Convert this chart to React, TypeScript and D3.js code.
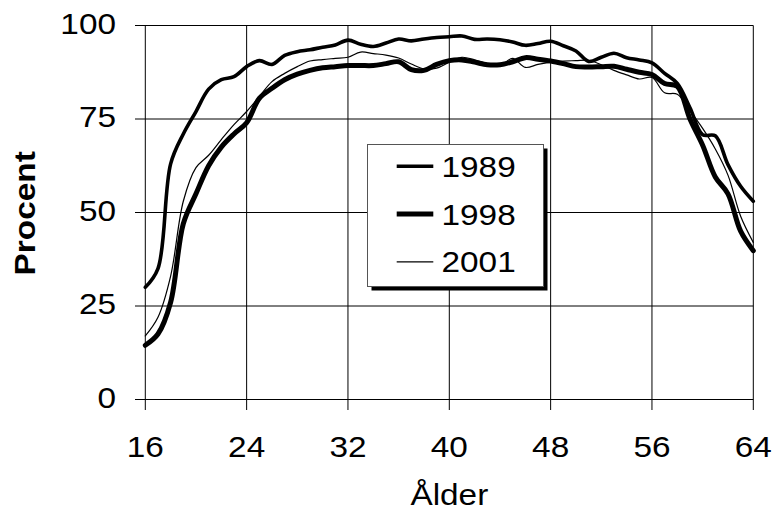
import React from "react";
import * as d3 from "d3";

const ages: number[] = d3.range(16, 65);

const s1989: number[] = [
  30, 35, 63, 71, 77, 83, 85.5, 86.3, 89, 90.6, 89.6, 92, 93, 93.5, 94.2, 94.8, 96.1, 95, 94.4, 95.3,
  96.4, 95.9, 96.4, 96.8, 97, 97.2, 96.3, 96.4, 96.2, 95.6, 94.7, 95.2, 95.8, 94.6, 93.2, 90.4, 91.5,
  92.6, 91.4, 90.8, 90, 87.2, 84.5, 78, 70.8, 70.5, 62.8, 57, 53,
];
const s1998: number[] = [
  14.5, 17.5, 26, 47, 55, 62.5, 67.5, 71, 74, 80.5, 83.2, 85.5, 87, 88, 88.7, 89, 89.3, 89.3, 89.3, 89.8,
  90.3, 88.2, 88, 89.6, 90.6, 90.8, 90.2, 89.5, 89.5, 90.3, 91.4, 91, 90.5, 89.8, 89, 88.9, 89, 89.1,
  88.3, 87.5, 86.9, 84.5, 83.7, 75, 68, 59.5, 55, 45, 39.8,
];
const s2001: number[] = [
  17, 22, 33, 53, 62, 65.3, 69.5, 73.5, 77, 81, 85, 87.2, 89, 90.5, 90.9, 91.2, 91.5, 92.9, 92.5, 92.1,
  91.3, 89.7, 88.4, 88.6, 90.2, 91.5, 90.8, 89.8, 89.3, 91.2, 88.8, 89.6, 90.2, 90.5, 90.6, 90.7, 89.5,
  88, 86.8, 85.7, 86.1, 82, 81.6, 77.2, 72.5, 67, 60, 49, 42,
];

const seriesNames: string[] = ["1989", "1998", "2001"];
const seriesValues: number[][] = [s1989, s1998, s2001];
const seriesWidths: number[] = [3.6, 5, 1.2];

const xTicks: number[] = [16, 24, 32, 40, 48, 56, 64];
const yTicks: number[] = [0, 25, 50, 75, 100];

const xTitle = "Ålder";
const yTitle = "Procent";

const W = 772;
const H = 511;
const FONT = "'Liberation Sans', Arial, Helvetica, sans-serif";
const SX = 1.15;

export default function App() {
  const x = d3.scaleLinear().domain([16, 64]).range([145.3, 753.3]);
  const y = d3.scaleLinear().domain([0, 100]).range([399.5, 25.5]);

  const line = d3
    .line<number>()
    .x((_, i) => x(ages[i]))
    .y((d) => y(d))
    .curve(d3.curveCatmullRom.alpha(0.5));

  const legX = 367.5;
  const legY = 144.5;
  const legW = 176;
  const legH = 142;
  const rowBase = [176.7, 224.5, 272.3];

  return (
    <svg
      width={W}
      height={H}
      style={{ position: "absolute", left: 0, top: 0, background: "#fff" }}
      fontFamily={FONT}
    >
      <rect x={0} y={0} width={W} height={H} fill="#fff" />
      {/* horizontal gridlines + y ticks */}
      {yTicks.map((t) => (
        <line key={"gy" + t} x1={135} x2={x(64)} y1={y(t)} y2={y(t)} stroke="#000" strokeWidth={1} />
      ))}
      {/* vertical gridlines + x ticks */}
      {xTicks.map((t) => (
        <line key={"gx" + t} x1={x(t)} x2={x(t)} y1={y(100)} y2={410} stroke="#000" strokeWidth={1} />
      ))}
      {/* y tick labels */}
      {yTicks.map((t) => (
        <text
          key={"ly" + t}
          transform={`translate(116,${y(t) + 8}) scale(${SX},1)`}
          textAnchor="end"
          fontSize={29}
          fill="#000"
        >
          {t}
        </text>
      ))}
      {/* x tick labels */}
      {xTicks.map((t) => (
        <text
          key={"lx" + t}
          transform={`translate(${x(t)},457) scale(${SX},1)`}
          textAnchor="middle"
          fontSize={29}
          fill="#000"
        >
          {t}
        </text>
      ))}
      {/* axis titles */}
      <text
        transform={`translate(${(x(16) + x(64)) / 2},505) scale(${SX},1)`}
        textAnchor="middle"
        fontSize={29}
        fill="#000"
      >
        {xTitle}
      </text>
      <text
        transform={`translate(35,213.3) rotate(-90) scale(${SX},1)`}
        textAnchor="middle"
        fontSize={29}
        fontWeight="bold"
        fill="#000"
      >
        {yTitle}
      </text>
      {/* series */}
      {seriesValues.map((vals, i) => (
        <path
          key={"s" + i}
          d={line(vals) || ""}
          fill="none"
          stroke="#000"
          strokeWidth={seriesWidths[i]}
          strokeLinejoin="round"
          strokeLinecap="round"
        />
      ))}
      {/* legend */}
      <rect x={legX + 4} y={legY + 4} width={legW} height={legH} fill="#000" />
      <rect x={legX} y={legY} width={legW} height={legH} fill="#fff" stroke="#555" strokeWidth={1} />
      {seriesNames.map((n, i) => (
        <g key={"leg" + i}>
          <line
            x1={396.7}
            x2={433.3}
            y1={rowBase[i] - 10.5}
            y2={rowBase[i] - 10.5}
            stroke="#000"
            strokeWidth={seriesWidths[i]}
          />
          <text
            transform={`translate(441.5,${rowBase[i]}) scale(${SX},1)`}
            fontSize={29}
            fill="#000"
          >
            {n}
          </text>
        </g>
      ))}
    </svg>
  );
}
